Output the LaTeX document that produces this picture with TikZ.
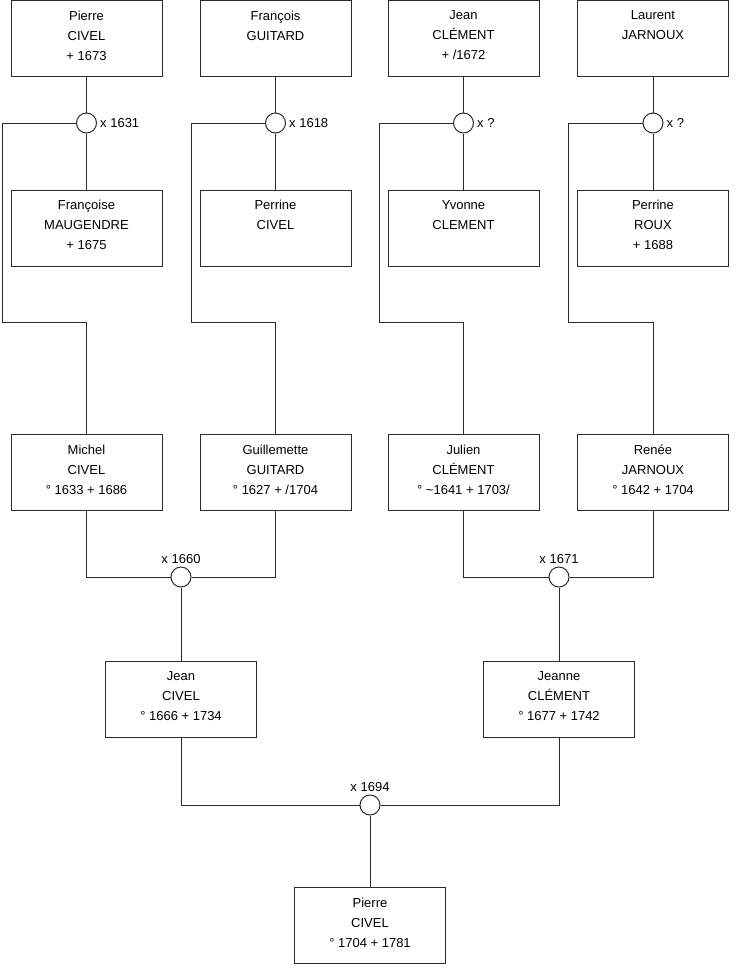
\documentclass[tikz,border=0pt]{standalone}
\usepackage{fontspec}
\setmainfont{Liberation Sans}
\usepackage{tikz}
\usetikzlibrary{calc,positioning}
\definecolor{linegray}{HTML}{2B2B2B}

\begin{document}
\begin{tikzpicture}[x=1pt,y=-1pt,
    person/.style={draw=linegray, fill=white, line width=1pt, minimum width=151pt, minimum height=76pt,
        inner sep=0pt, align=center, font=\fontsize{13}{20}\selectfont},
    union/.style={circle, draw=linegray, fill=white, line width=1pt, minimum size=20pt, inner sep=0pt},
    wedding/.style={font=\fontsize{13}{15}\selectfont, inner sep=1pt},
    link/.style={draw=linegray, line width=1pt}]

    % Page frame
    \useasboundingbox (0,0) rectangle (740,975);

    % Great-grandparents
    \node[person] (p1) at (86.5,38.5) {Pierre\\CIVEL\\+ 1673\strut};
    \node[person] (p2) at (275.5,38.5) {François\\GUITARD\\\strut};
    \node[person] (p3) at (463.5,38.5) {Jean\\CLÉMENT\\+ /1672\strut};
    \node[person] (p4) at (653,38.5) {Laurent\\JARNOUX\\\strut};

    % Their marriages
    \foreach \x [count=\i] in {86.5,275.5,463.5,653} {
        \node[union] (u\i) at (\x,123) {};
    }
    \node[wedding, right=2pt of u1] (w1) {x 1631};
    \node[wedding, right=2pt of u2] (w2) {x 1618};
    \node[wedding, right=2pt of u3] (w3) {x ?};
    \node[wedding, right=2pt of u4] (w4) {x ?};

    % Great-grandmothers
    \node[person] (s1) at (86.5,228) {Françoise\\MAUGENDRE\\+ 1675\strut};
    \node[person] (s2) at (275.5,228) {Perrine\\CIVEL\\\strut};
    \node[person] (s3) at (463.5,228) {Yvonne\\CLEMENT\\\strut};
    \node[person] (s4) at (653,228) {Perrine\\ROUX\\+ 1688\strut};

    % Grandparents
    \node[person] (c1) at (86.5,472.5) {Michel\\CIVEL\\° 1633 + 1686\strut};
    \node[person] (c2) at (275.5,472.5) {Guillemette\\GUITARD\\° 1627 + /1704\strut};
    \node[person] (c3) at (463.5,472.5) {Julien\\CLÉMENT\\° \textasciitilde1641 + 1703/\strut};
    \node[person] (c4) at (653,472.5) {Renée\\JARNOUX\\° 1642 + 1704\strut};

    % Links from each couple down to its child
    \foreach \i in {1,...,4} {
        \draw[link] (p\i) -- (u\i) -- (s\i);
        \draw[link] (u\i) -| ($(u\i)+(-84.5,199)$) -| (c\i);
    }

    % Grandparents' marriages
    \node[union] (u5) at (181,577) {};
    \node[union] (u6) at (559,577) {};
    \node[wedding, above=2pt of u5] (w5) {x 1660};
    \node[wedding, above=2pt of u6] (w6) {x 1671};
    \draw[link] (c1) |- (u5) -| (c2);
    \draw[link] (c3) |- (u6) -| (c4);

    % Parents
    \node[person] (g1) at (181,699.5) {Jean\\CIVEL\\° 1666 + 1734\strut};
    \node[person] (g2) at (559,699.5) {Jeanne\\CLÉMENT\\° 1677 + 1742\strut};
    \draw[link] (u5) -- (g1);
    \draw[link] (u6) -- (g2);

    % Parents' marriage
    \node[union] (u7) at (370,805) {};
    \node[wedding, above=2pt of u7] (w7) {x 1694};
    \draw[link] (g1) |- (u7) -| (g2);

    % Root
    \node[person] (h) at (370,925.5) {Pierre\\CIVEL\\° 1704 + 1781\strut};
    \draw[link] (u7) -- (h);

\end{tikzpicture}
\end{document}
